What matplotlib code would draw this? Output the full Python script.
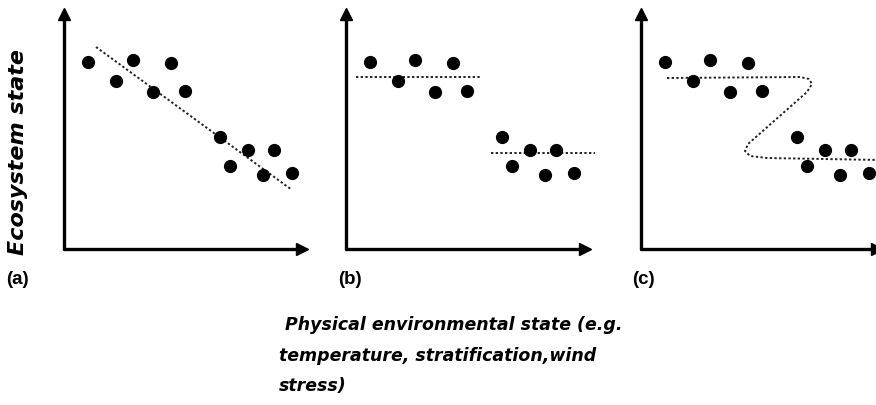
"""
Three conceptual regime-shift sketches: ecosystem state vs physical state.

(a) smooth linear response, (b) abrupt step, (c) hysteresis (folded curve).
"""

import matplotlib

matplotlib.use("Agg")
import matplotlib.pyplot as plt

# same scatter of observations in every panel (arbitrary units)
state_x = [24, 52, 69, 89, 107, 121, 156, 166, 184, 199, 210, 228]
state_y = [187, 168, 189, 157, 186, 158, 112, 83, 99, 74, 99, 76]

# (a) linear trend
trend_x = [32, 228]
trend_y = [202, 59]

# (b) two flat regimes
upper_x = [10, 135]
upper_y = [172, 172]
lower_x = [145, 249]
lower_y = [96, 96]

# (c) folded (Z-shaped) response
fold_x = [26, 159, 168, 171, 166, 107, 104, 109, 126, 240]
fold_y = [171, 172, 170, 165, 157, 105, 98, 93, 91, 89]

panel_labels = ["(a)", "(b)", "(c)"]
ylabel = "Ecosystem state"
xlabel = " Physical environmental state (e.g.\ntemperature, stratification,wind\nstress)"

W, H = 876, 406
# (left, axis length) in pixels for each panel; x-axis sits at y=250px
PANELS = [(64, 238), (346, 239), (641, 236)]
LABEL_X = [6, 338, 632]
AX_BOTTOM, AX_TOP = 250, 15

DOT = dict(color="black", marker="o", markersize=8.5, linestyle="none")
DOTTED = dict(color="#222222", linewidth=1.4, linestyle=(0, (1.2, 1.2)))


def _axes(fig, left, length):
    ax = fig.add_axes([left / W, 1 - AX_BOTTOM / H, length / W,
                       (AX_BOTTOM - AX_TOP) / H])
    ax.set_xlim(0, length)
    ax.set_ylim(0, AX_BOTTOM - AX_TOP)
    for side in ("top", "right"):
        ax.spines[side].set_visible(False)
    for side in ("left", "bottom"):
        ax.spines[side].set_linewidth(2.4)
        ax.spines[side].set_capstyle("round")
    ax.set_xticks([])
    ax.set_yticks([])
    ax.patch.set_alpha(0)
    # arrow heads
    ax.plot(1, 0, ">k", markersize=8, transform=ax.transAxes, clip_on=False)
    ax.plot(0, 1, "^k", markersize=8, transform=ax.transAxes, clip_on=False)
    return ax


def main() -> None:
    fig = plt.figure(figsize=(W / 100, H / 100), dpi=100)
    fig.patch.set_facecolor("white")

    axes = [_axes(fig, left, length) for left, length in PANELS]

    axes[0].plot(trend_x, trend_y, clip_on=False, **DOTTED)
    axes[1].plot(upper_x, upper_y, clip_on=False, **DOTTED)
    axes[1].plot(lower_x, lower_y, clip_on=False, **DOTTED)
    axes[2].plot(fold_x, fold_y, clip_on=False, **DOTTED)

    for ax in axes:
        ax.plot(state_x, state_y, clip_on=False, zorder=3, **DOT)

    for lx, lab in zip(LABEL_X, panel_labels):
        fig.text(lx / W, 1 - 280 / H, lab, fontsize=13.5, fontweight="bold",
                 family="Liberation Sans", va="center", ha="left")

    fig.text(18 / W, 1 - 152 / H, ylabel, rotation=90, fontsize=16,
             fontweight="bold", style="italic", ha="center", va="center")
    fig.text(279 / W, 1 - 316 / H, xlabel, fontsize=12.5, fontweight="bold",
             style="italic", ha="left", va="top", linespacing=1.9)

    fig.savefig("out.png", dpi=100)
    plt.close(fig)


if __name__ == "__main__":
    main()
